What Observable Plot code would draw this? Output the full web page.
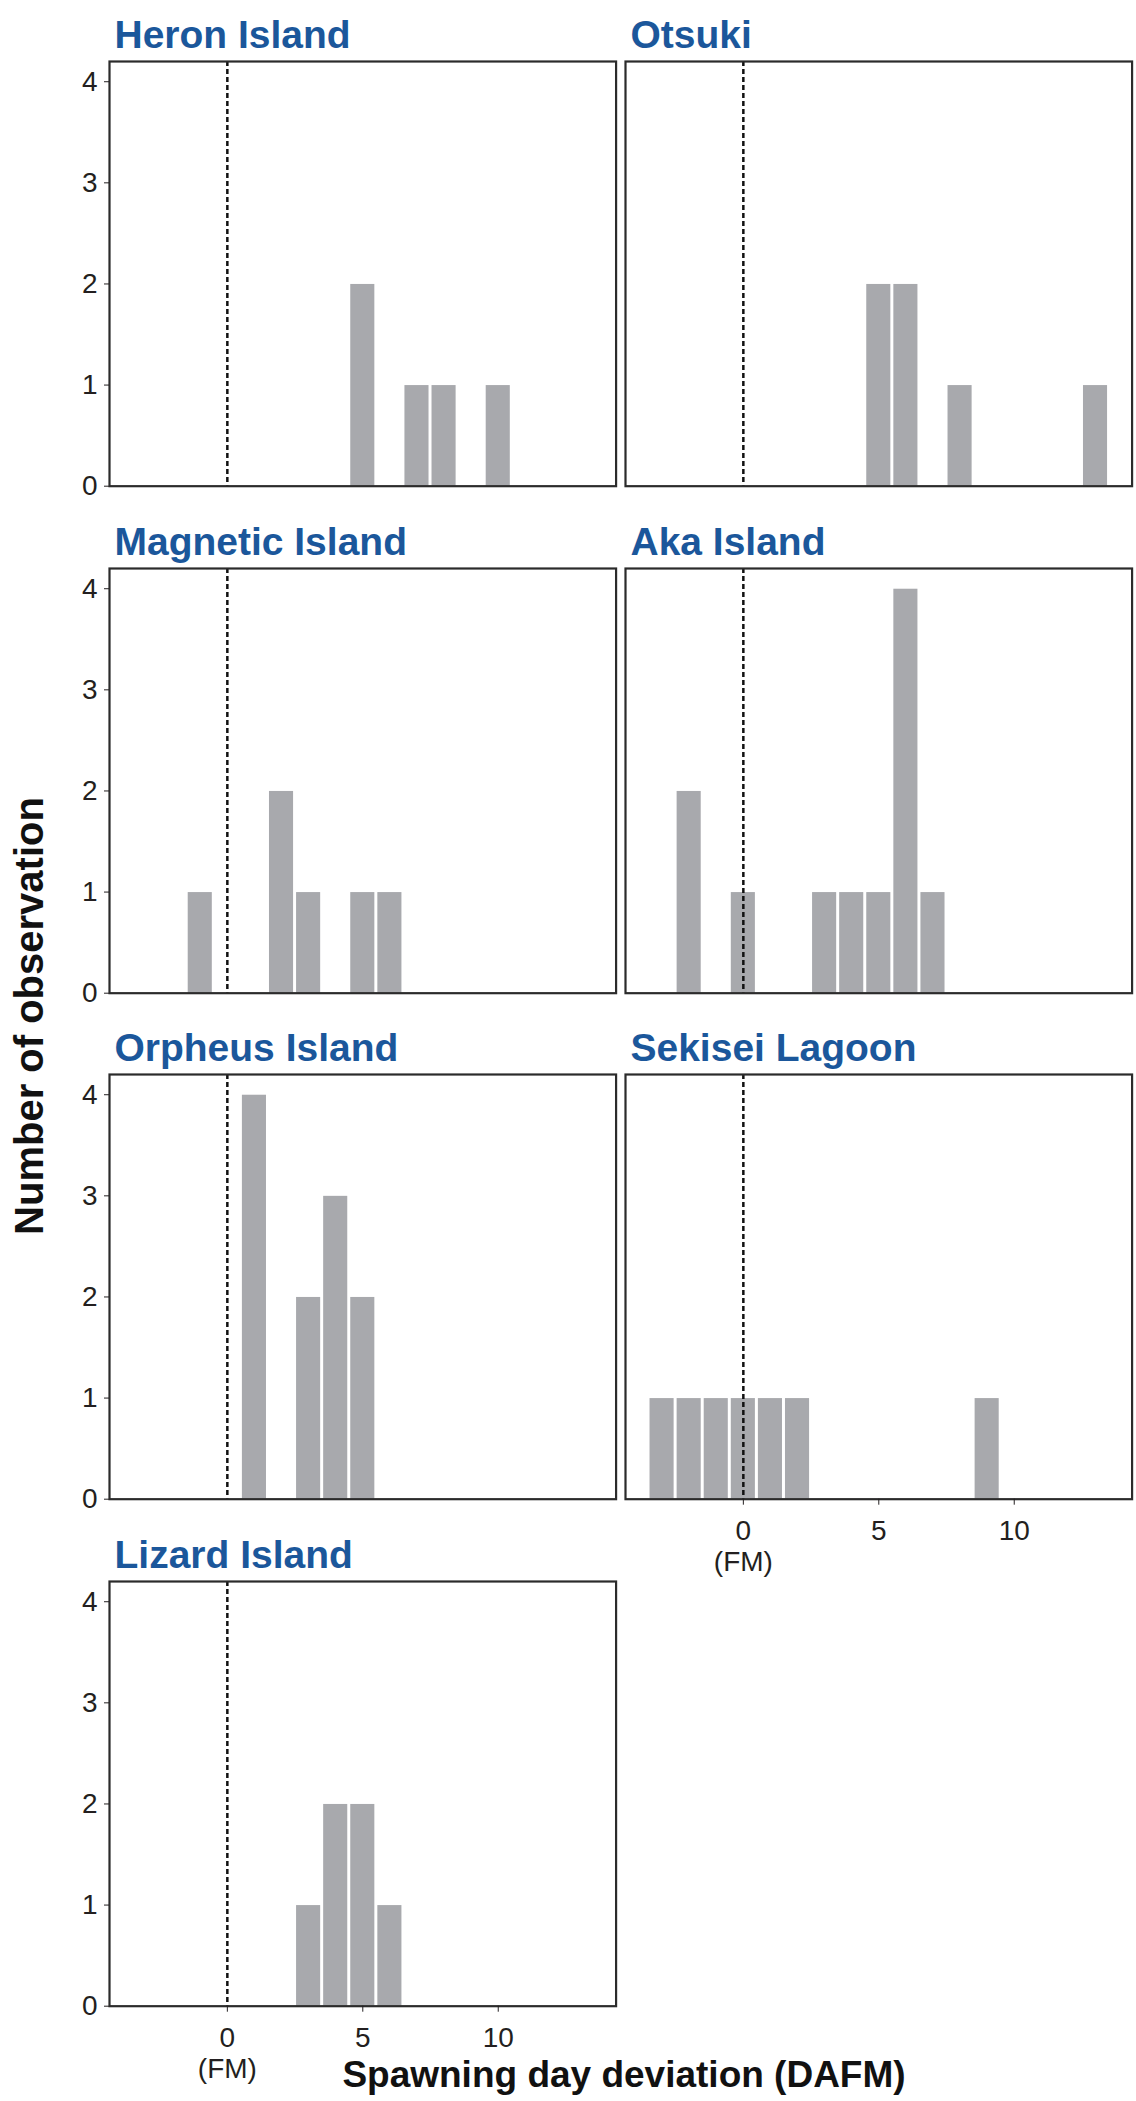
<!DOCTYPE html>
<html>
<head>
<meta charset="utf-8">
<script src="https://cdn.jsdelivr.net/npm/d3@7"></script>
<script src="https://cdn.jsdelivr.net/npm/@observablehq/plot@0.6"></script>
<style>
  html, body { margin: 0; padding: 0; background: #fff; }
  #fig { position: relative; width: 1136px; height: 2101px; background: #fff; overflow: hidden; }
  #fig svg { position: absolute; overflow: visible; }
  .axtitle { position: absolute; font-family: "Liberation Sans", Arial, Helvetica, sans-serif; font-weight: bold; color: #111; white-space: nowrap; text-align: center; }
</style>
</head>
<body>
<div id="fig"></div>
<script>
// ---------- data ----------
const sites = ["Heron Island", "Otsuki", "Magnetic Island", "Aka Island", "Orpheus Island", "Sekisei Lagoon", "Lizard Island"];
const heronDays = [5, 7, 8, 10];
const heronCounts = [2, 1, 1, 1];
const otsukiDays = [5, 6, 8, 13];
const otsukiCounts = [2, 2, 1, 1];
const magneticDays = [-1, 2, 3, 5, 6];
const magneticCounts = [1, 2, 1, 1, 1];
const akaDays = [-2, 0, 3, 4, 5, 6, 7];
const akaCounts = [2, 1, 1, 1, 1, 4, 1];
const orpheusDays = [1, 3, 4, 5];
const orpheusCounts = [4, 2, 3, 2];
const sekiseiDays = [-3, -2, -1, 0, 1, 2, 9];
const sekiseiCounts = [1, 1, 1, 1, 1, 1, 1];
const lizardDays = [3, 4, 5, 6];
const lizardCounts = [1, 2, 2, 1];
const yTicks = [0, 1, 2, 3, 4];
const xTicks = [0, 5, 10];
const xTickLabels = ["0\n(FM)", "5", "10"];
const fullMoonDay = 0;
const xDomain = [-4.35, 14.35];
const yDomain = [0, 4.2];
const xTitle = "Spawning day deviation (DAFM)";
const yTitle = "Number of observation";

const daysBySite = [heronDays, otsukiDays, magneticDays, akaDays, orpheusDays, sekiseiDays, lizardDays];
const countsBySite = [heronCounts, otsukiCounts, magneticCounts, akaCounts, orpheusCounts, sekiseiCounts, lizardCounts];

// ---------- layout ----------
const FONT = '"Liberation Sans", Arial, Helvetica, sans-serif';
const colLeft = [109, 625];
const rowTop = [61, 567.6, 1074.2, 1580.8];
const frameW = 506.6, frameH = 424.7;
const MT = 61;
const ink = "#231f20";
const fig = document.getElementById("fig");

sites.forEach((site, i) => {
  const col = i % 2, row = Math.floor(i / 2);
  const showY = col === 0;
  const showX = i === 5 || i === 6;
  const ML = col === 0 ? 109 : 12;
  const MR = 6;
  const MB = showX ? 110 : 6;
  const rows = daysBySite[i].map((d, k) => ({day: d, n: countsBySite[i][k]}));

  const marks = [
    Plot.rect(rows, {
      x1: d => d.day - 0.5, x2: d => d.day + 0.5,
      y1: d => 0, y2: d => d.n,
      fill: "#a8a9ad", insetLeft: 1.5, insetRight: 1.5, insetTop: 0.5
    }),
    Plot.ruleX([fullMoonDay], {stroke: "#111", strokeWidth: 2.5, strokeDasharray: "5,3"}),
    Plot.frame({stroke: "#2b2b2b", strokeWidth: 2.2}),
    Plot.text([site], {
      text: d => d, frameAnchor: "top-left", dx: 5, dy: -13,
      textAnchor: "start", lineAnchor: "bottom",
      fontSize: 39, fontWeight: "bold", fill: "#1b579b", fontFamily: FONT
    })
  ];
  if (showY) {
    marks.push(Plot.axisY(yTicks, {
      tickSize: 5, tickPadding: 7, fontSize: 28, color: ink, label: null, tickFormat: d => String(d)
    }));
  }
  if (showX) {
    marks.push(Plot.axisX(xTicks, {
      tickSize: 6, tickPadding: 12, fontSize: 28, color: ink, label: null, lineHeight: 1.13,
      tickFormat: d => xTickLabels[xTicks.indexOf(d)]
    }));
  }

  const svg = Plot.plot({
    width: ML + frameW + MR,
    height: MT + frameH + MB,
    marginLeft: ML, marginRight: MR, marginTop: MT, marginBottom: MB,
    x: {domain: xDomain, axis: null},
    y: {domain: yDomain, axis: null},
    style: {fontFamily: FONT, fontSize: "28px", color: ink, background: "transparent", overflow: "visible"},
    marks
  });
  svg.style.left = (colLeft[col] - ML) + "px";
  svg.style.top = (rowTop[row] - MT) + "px";
  svg.style.maxWidth = "none";
  fig.appendChild(svg);
});

// axis titles
const xt = document.createElement("div");
xt.className = "axtitle";
xt.textContent = xTitle;
xt.style.fontSize = "37px";
xt.style.lineHeight = "37px";
xt.style.left = (624 - 400) + "px";
xt.style.width = "800px";
xt.style.top = "2056px";
fig.appendChild(xt);

const yt = document.createElement("div");
yt.className = "axtitle";
yt.textContent = yTitle;
yt.style.fontSize = "40px";
yt.style.lineHeight = "40px";
yt.style.width = "800px";
yt.style.left = "9px";
yt.style.top = (1016 + 400) + "px";
yt.style.transformOrigin = "0 0";
yt.style.transform = "rotate(-90deg)";
fig.appendChild(yt);
</script>
</body>
</html>
